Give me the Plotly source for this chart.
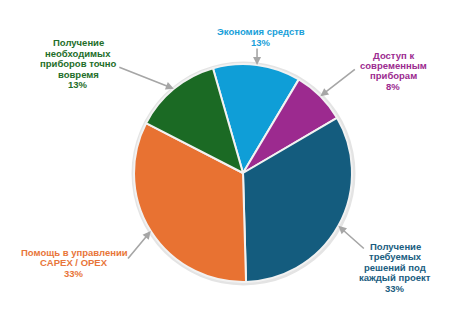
import math
import plotly.graph_objects as go

labels = ["Экономия средств", "Доступ к современным приборам",
          "Получение требуемых решений под каждый проект",
          "Помощь в управлении CAPEX / OPEX",
          "Получение необходимых приборов точно вовремя"]
values = [13, 8, 33, 33, 13]
colors = ["#0F9ED7", "#9C2A8F", "#145C7E", "#E87232", "#1B6A24"]
text_colors = ["#1A9FD9", "#9C2B90", "#1A5D7F", "#E8763A", "#1E6E2A"]
label_lines = [
    ["Экономия средств", "13%"],
    ["Доступ к", "современным", "приборам", "8%"],
    ["Получение", "требуемых", "решений под", "каждый проект", "33%"],
    ["Помощь в управлении", "CAPEX / OPEX", "33%"],
    ["Получение", "необходимых", "приборов точно", "вовремя", "13%"],
]
# label block: centre x, first-line y (px), arrow tail offset (px)
label_pos = [(261, 31.5), (393, 55), (395, 246), (74, 252), (78, 42.5)]
tail_off = [(0, -18), (36, -28), (27, 24), (-24, 29), (-56, -22)]

W, H = 463, 331
cx, cy, R = 243, 173, 109
rotation = -16

fig = go.Figure()
fig.add_trace(go.Pie(
    values=[1], marker=dict(colors=["#e4e4e4"]), textinfo="none", hoverinfo="skip",
    domain=dict(x=[(cx - R - 2.5) / W, (cx + R + 3.5) / W],
                y=[1 - (cy + R + 3.5) / H, 1 - (cy - R - 2.5) / H]),
    showlegend=False, sort=False))
fig.add_trace(go.Pie(
    labels=labels, values=values, sort=False, direction="clockwise", rotation=rotation,
    marker=dict(colors=colors, line=dict(color="#f2f2f2", width=2)),
    textinfo="none", showlegend=False,
    domain=dict(x=[(cx - R) / W, (cx + R) / W], y=[1 - (cy + R) / H, 1 - (cy - R) / H])))

annotations = []
total = sum(values)
start = rotation
for i, v in enumerate(values):
    mid = start + v / total * 360 / 2
    start += v / total * 360
    a = math.radians(mid)
    hx = cx + R * math.sin(a)
    hy = cy - R * math.cos(a)
    annotations.append(dict(
        x=hx / W, y=1 - hy / H, xref="paper", yref="paper", text="",
        showarrow=True, arrowhead=2, arrowsize=1, arrowwidth=1.6, arrowcolor="#a6a6a6",
        ax=tail_off[i][0], ay=tail_off[i][1], standoff=0))
    lx, ly = label_pos[i]
    for j, line in enumerate(label_lines[i]):
        annotations.append(dict(
            x=lx / W, y=1 - (ly + j * 10.5) / H, xref="paper", yref="paper",
            text="<b>" + line + "</b>", showarrow=False, xanchor="center", yanchor="middle",
            font=dict(family="Liberation Sans, Arial", size=9.5, color=text_colors[i])))

fig.update_layout(width=W, height=H, margin=dict(l=0, r=0, t=0, b=0),
                  paper_bgcolor="white", plot_bgcolor="white", annotations=annotations)
fig.write_html("out.html")
